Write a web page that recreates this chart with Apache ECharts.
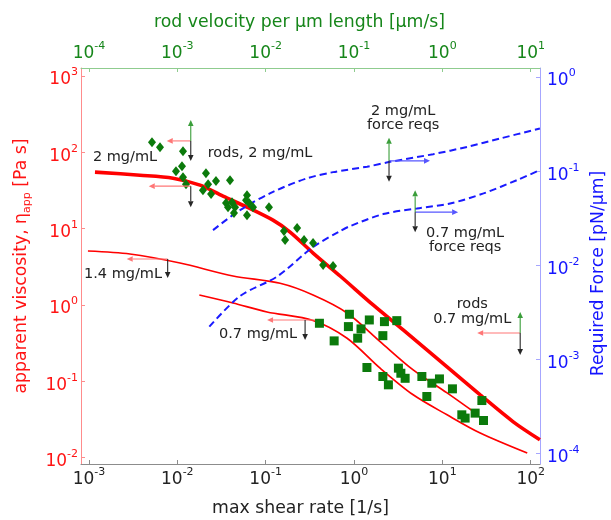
<!DOCTYPE html>
<html>
<head>
<meta charset="utf-8">
<title>Apparent viscosity and required force vs. shear rate</title>
<script src="https://cdn.jsdelivr.net/npm/echarts@6.0.0/dist/echarts.min.js"></script>
<style>
  html, body { margin: 0; padding: 0; background: #ffffff; }
  #chart { width: 611px; height: 520px; }
</style>
</head>
<body>
<div id="chart"></div>
<script>
// ---------- fitted apparent viscosity curves [shear rate 1/s, viscosity Pa s] ----------
const fit2Shear  = [0.00117, 0.00378, 0.00894, 0.0181, 0.0329, 0.0615, 0.121, 0.189, 0.344, 0.696, 1.645, 3.60, 11.3, 26.8, 63.4, 127];
const fit2Visc   = [54.9, 50.1, 45.8, 37.1, 26.6, 19.1, 12.9, 9.0, 4.78, 2.39, 0.997, 0.469, 0.154, 0.0662, 0.0293, 0.01705];

const fit14Shear = [0.000974, 0.00291, 0.01073, 0.0427, 0.1456, 0.344, 0.835, 1.975, 4.67, 11.3, 23.5];
const fit14Visc  = [5.08, 4.64, 3.535, 2.39, 1.918, 1.348, 0.783, 0.33, 0.1405, 0.0703, 0.0385];

const fit07Shear = [0.01775, 0.0427, 0.1037, 0.344, 0.835, 1.975, 4.67, 11.3, 26.8, 91.3];
const fit07Visc  = [1.348, 1.059, 0.807, 0.625, 0.3654, 0.148, 0.0662, 0.0362, 0.0209, 0.01142];

// ---------- required force per rod length [shear rate 1/s, pN/µm] ----------
const force2Shear  = [0.02537, 0.0513, 0.1213, 0.292, 0.58, 1.407, 2.563, 7.87, 19.1, 45.1, 127];
const force2Val    = [0.02367, 0.0386, 0.0603, 0.0837, 0.0976, 0.1116, 0.1255, 0.1515, 0.181, 0.2222, 0.2836];

const force07Shear = [0.02304, 0.0513, 0.1336, 0.344, 0.696, 0.903, 2.136, 5.14, 12.26, 29.2, 69.8, 127];
const force07Val   = [0.002233, 0.004725, 0.007568, 0.01563, 0.02311, 0.0261, 0.035, 0.0402, 0.0454, 0.058, 0.0803, 0.1025];

// ---------- measured rods ----------
const rods2Shear = [0.00517, 0.00637, 0.0116, 0.00966, 0.0113, 0.0116, 0.01254, 0.0211, 0.0195, 0.0223, 0.0274,
                    0.0241, 0.0395, 0.0356, 0.0375, 0.0416, 0.045, 0.0438, 0.0615, 0.06, 0.0649, 0.0719, 0.0615,
                    0.109, 0.161, 0.166, 0.227, 0.272, 0.344, 0.447, 0.579];
const rods2Visc  = [135.5, 116.6, 103.3, 56.6, 65.8, 47.2, 38.2, 53.2, 31.9, 38.2, 41.9,
                    28.3, 43.1, 21.6, 19.1, 22.2, 19.1, 16.0, 27.4, 23.6, 21.6, 19.1, 15.0,
                    19.1, 9.27, 7.07, 10.15, 7.07, 6.46, 3.33, 3.23];

const rods07Shear = [0.406, 0.596, 0.887, 0.864, 1.20, 1.10, 1.49, 2.21, 2.12, 3.05, 1.40, 2.12, 2.45,
                     3.18, 3.39, 3.79, 5.86, 7.60, 9.27, 6.67, 13.0, 28.0, 16.6, 18.1, 23.5, 29.2];
const rods07Visc  = [0.574, 0.337, 0.753, 0.519, 0.484, 0.366, 0.634, 0.603, 0.395, 0.621, 0.151, 0.115, 0.0895,
                     0.148, 0.127, 0.109, 0.115, 0.094, 0.107, 0.0629, 0.0793, 0.0557, 0.0362, 0.0328, 0.0381, 0.0305];

// ---------- axes: extents and tick labels, in decades ----------
const shearRange    = [-3.09, 2.105];
const velocityRange = [-4.09, 1.105];
const viscRange     = [-2.086, 3.105];
const forceRange    = [-4.109, 0.095];

const shearTicks    = [-3, -2, -1, 0, 1, 2];
const velocityTicks = [-4, -3, -2, -1, 0, 1];
const viscTicks     = [-2, -1, 0, 1, 2, 3];
const forceTicks    = [-4, -3, -2, -1, 0];

// ---------- annotations ----------
const noteLabels = [
  { text: '2 mg/mL',               at: [0.00256, 86.3] },
  { text: 'rods, 2 mg/mL',         at: [0.0864, 97.2] },
  { text: '1.4 mg/mL',             at: [0.00243, 2.54] },
  { text: '0.7 mg/mL',             at: [0.082, 0.416] },
  { text: '2 mg/mL\nforce reqs',   at: [3.6, 279] },
  { text: '0.7 mg/mL\nforce reqs', at: [18.1, 7.07] },
  { text: 'rods\n0.7 mg/mL',       at: [21.8, 0.807] }
];
// axis-direction markers: L = viscosity axis, R = force axis, U = velocity axis, D = shear-rate axis
const viscMarkers = [
  { at: [0.0142, 141],   arrows: [['L', 24], ['U', 21], ['D', 20]] },
  { at: [0.0142, 36],    arrows: [['L', 42], ['D', 21]] },
  { at: [0.00778, 3.99], arrows: [['L', 41], ['D', 19]] },
  { at: [0.3626, 0.634], arrows: [['L', 48], ['D', 20, -10]] },
  { at: [76.0, 0.428],   arrows: [['L', 43], ['U', 21], ['D', 22]] }
];
const forceMarkers = [
  { at: [2.49, 0.1286],  arrows: [['R', 41], ['U', 23], ['D', 21]] },
  { at: [4.92, 0.0367],  arrows: [['R', 43], ['U', 22], ['D', 20]] }
];

// ---------- styling ----------
const FONT = '"DejaVu Sans", sans-serif';
const RED = '#ff1414', BLUE = '#1414ff', GREEN = '#16861a', INK = '#222222';
const MARK_GREEN = '#0b7a0b';
const arrowColors = { L: '#ff7676', R: '#5656ff', U: '#3a9e3a', D: '#262626' };

const toLog = (xs, ys) => xs.map((x, i) => [Math.log10(x), Math.log10(ys[i])]);

function powLabel(v) {
  return '{b|10}{s|' + Math.round(v) + '}';
}
function powRich(color) {
  return {
    b: { fontFamily: FONT, fontSize: 17, lineHeight: 26, color: color },
    s: { fontFamily: FONT, fontSize: 11, lineHeight: 12, verticalAlign: 'top', color: color }
  };
}

function decadeAxis(o) {
  return {
    type: 'value',
    position: o.position,
    min: o.range[0],
    max: o.range[1],
    name: o.name,
    nameLocation: 'middle',
    nameGap: o.nameGap,
    nameTextStyle: Object.assign({
      fontFamily: FONT, fontSize: 17.3, color: o.titleColor, padding: o.namePadding || 0
    }, o.nameStyle || {}),
    axisLine: { show: true, onZero: false, lineStyle: { color: o.lineColor, width: 1 } },
    axisTick: { show: true, inside: true, length: 4, customValues: o.ticks,
                lineStyle: { color: o.lineColor, width: 1 } },
    axisLabel: { show: true, customValues: o.ticks, margin: o.margin, formatter: powLabel,
                 rich: powRich(o.labelColor), padding: o.labelPadding || 0 },
    splitLine: { show: false },
    minorTick: { show: false },
    minorSplitLine: { show: false }
  };
}

function arrowEls(x, y, spec) {
  const dir = spec[0], len = spec[1];
  const ox = spec[2] || 0, oy = spec[3] || 0;
  const d = { L: [-1, 0], R: [1, 0], U: [0, -1], D: [0, 1] }[dir];
  const color = arrowColors[dir];
  const sx = x + ox, sy = y + oy;
  const ex = sx + d[0] * len, ey = sy + d[1] * len;
  const head = 6, half = 2.8;
  const bx = ex - d[0] * head, by = ey - d[1] * head;
  const px = -d[1], py = d[0];
  return [
    { type: 'line', shape: { x1: sx, y1: sy, x2: bx, y2: by },
      style: { stroke: color, lineWidth: 1.1 } },
    { type: 'polygon', shape: { points: [[ex, ey], [bx + px * half, by + py * half], [bx - px * half, by - py * half]] },
      style: { fill: color } }
  ];
}

function markerSeries(list, yIndex) {
  return {
    type: 'custom',
    xAxisIndex: 0,
    yAxisIndex: yIndex,
    silent: true,
    clip: false,
    z: 10,
    data: list.map(m => [Math.log10(m.at[0]), Math.log10(m.at[1])]),
    renderItem: function (params, api) {
      const p = api.coord([api.value(0), api.value(1)]);
      let children = [];
      list[params.dataIndex].arrows.forEach(a => { children = children.concat(arrowEls(p[0], p[1], a)); });
      return { type: 'group', children: children };
    }
  };
}

function curve(name, xs, ys, yIndex, lineStyle, z) {
  return { name: name, type: 'line', xAxisIndex: 0, yAxisIndex: yIndex, data: toLog(xs, ys),
           showSymbol: false, smooth: 0.3, lineStyle: lineStyle, z: z };
}

const chart = echarts.init(document.getElementById('chart'), null, { renderer: 'canvas' });

chart.setOption({
  animation: false,
  backgroundColor: '#ffffff',
  grid: { left: 81, right: 71, top: 68, bottom: 56, outerBoundsMode: 'none', containLabel: false },
  xAxis: [
    decadeAxis({ position: 'bottom', range: shearRange, ticks: shearTicks, name: 'max shear rate [1/s]',
                 nameGap: 36, titleColor: INK, lineColor: '#8c8c8c', labelColor: INK, margin: 3,
                 namePadding: [0, 20, 0, 0] }),
    decadeAxis({ position: 'top', range: velocityRange, ticks: velocityTicks,
                 name: 'rod velocity per µm length [µm/s]', nameGap: 37, titleColor: GREEN,
                 lineColor: '#8fcc8f', labelColor: GREEN, margin: 1, namePadding: [0, 22, 0, 0] })
  ],
  yAxis: [
    decadeAxis({ position: 'left', range: viscRange, ticks: viscTicks,
                 name: 'apparent viscosity, η{sub|app} [Pa s]', nameGap: 48, titleColor: RED,
                 lineColor: '#ff8c8c', labelColor: RED, margin: 3, labelPadding: [8, 0, 0, 0],
                 nameStyle: { lineHeight: 22, rich: { sub: { fontFamily: FONT, fontSize: 11, lineHeight: 14,
                              verticalAlign: 'bottom', color: RED } } } }),
    decadeAxis({ position: 'right', range: forceRange, ticks: forceTicks,
                 name: 'Required Force [pN/µm]', nameGap: 50, titleColor: BLUE,
                 lineColor: '#a6a6ff', labelColor: BLUE, margin: 7, labelPadding: [8, 0, 0, 0],
                 namePadding: [0, 15, 0, 0] })
  ],
  series: [
    curve('2 mg/mL fit', fit2Shear, fit2Visc, 0, { color: '#ff0000', width: 3.6 }, 2),
    curve('1.4 mg/mL fit', fit14Shear, fit14Visc, 0, { color: '#ff0000', width: 1.7 }, 2),
    curve('0.7 mg/mL fit', fit07Shear, fit07Visc, 0, { color: '#ff0000', width: 1.7 }, 2),
    curve('2 mg/mL force reqs', force2Shear, force2Val, 1, { color: '#1a1aff', width: 2, type: [7, 4] }, 3),
    curve('0.7 mg/mL force reqs', force07Shear, force07Val, 1, { color: '#1a1aff', width: 2, type: [7, 4] }, 3),
    { name: 'rods, 2 mg/mL', type: 'scatter', xAxisIndex: 0, yAxisIndex: 0, data: toLog(rods2Shear, rods2Visc),
      symbol: 'diamond', symbolSize: [8, 10], itemStyle: { color: MARK_GREEN, opacity: 1 }, z: 4 },
    { name: 'rods, 0.7 mg/mL', type: 'scatter', xAxisIndex: 0, yAxisIndex: 0, data: toLog(rods07Shear, rods07Visc),
      symbol: 'rect', symbolSize: 9, itemStyle: { color: MARK_GREEN, opacity: 1 }, z: 4 },
    markerSeries(viscMarkers, 0),
    markerSeries(forceMarkers, 1),
    {
      type: 'custom', xAxisIndex: 0, yAxisIndex: 0, silent: true, clip: false, z: 11,
      data: noteLabels.map(n => [Math.log10(n.at[0]), Math.log10(n.at[1])]),
      renderItem: function (params, api) {
        const p = api.coord([api.value(0), api.value(1)]);
        return {
          type: 'text', x: p[0], y: p[1],
          style: { text: noteLabels[params.dataIndex].text, fill: INK,
                   font: '14.5px ' + FONT, align: 'center', verticalAlign: 'middle', lineHeight: 14.5 }
        };
      }
    }
  ]
});
</script>
</body>
</html>
